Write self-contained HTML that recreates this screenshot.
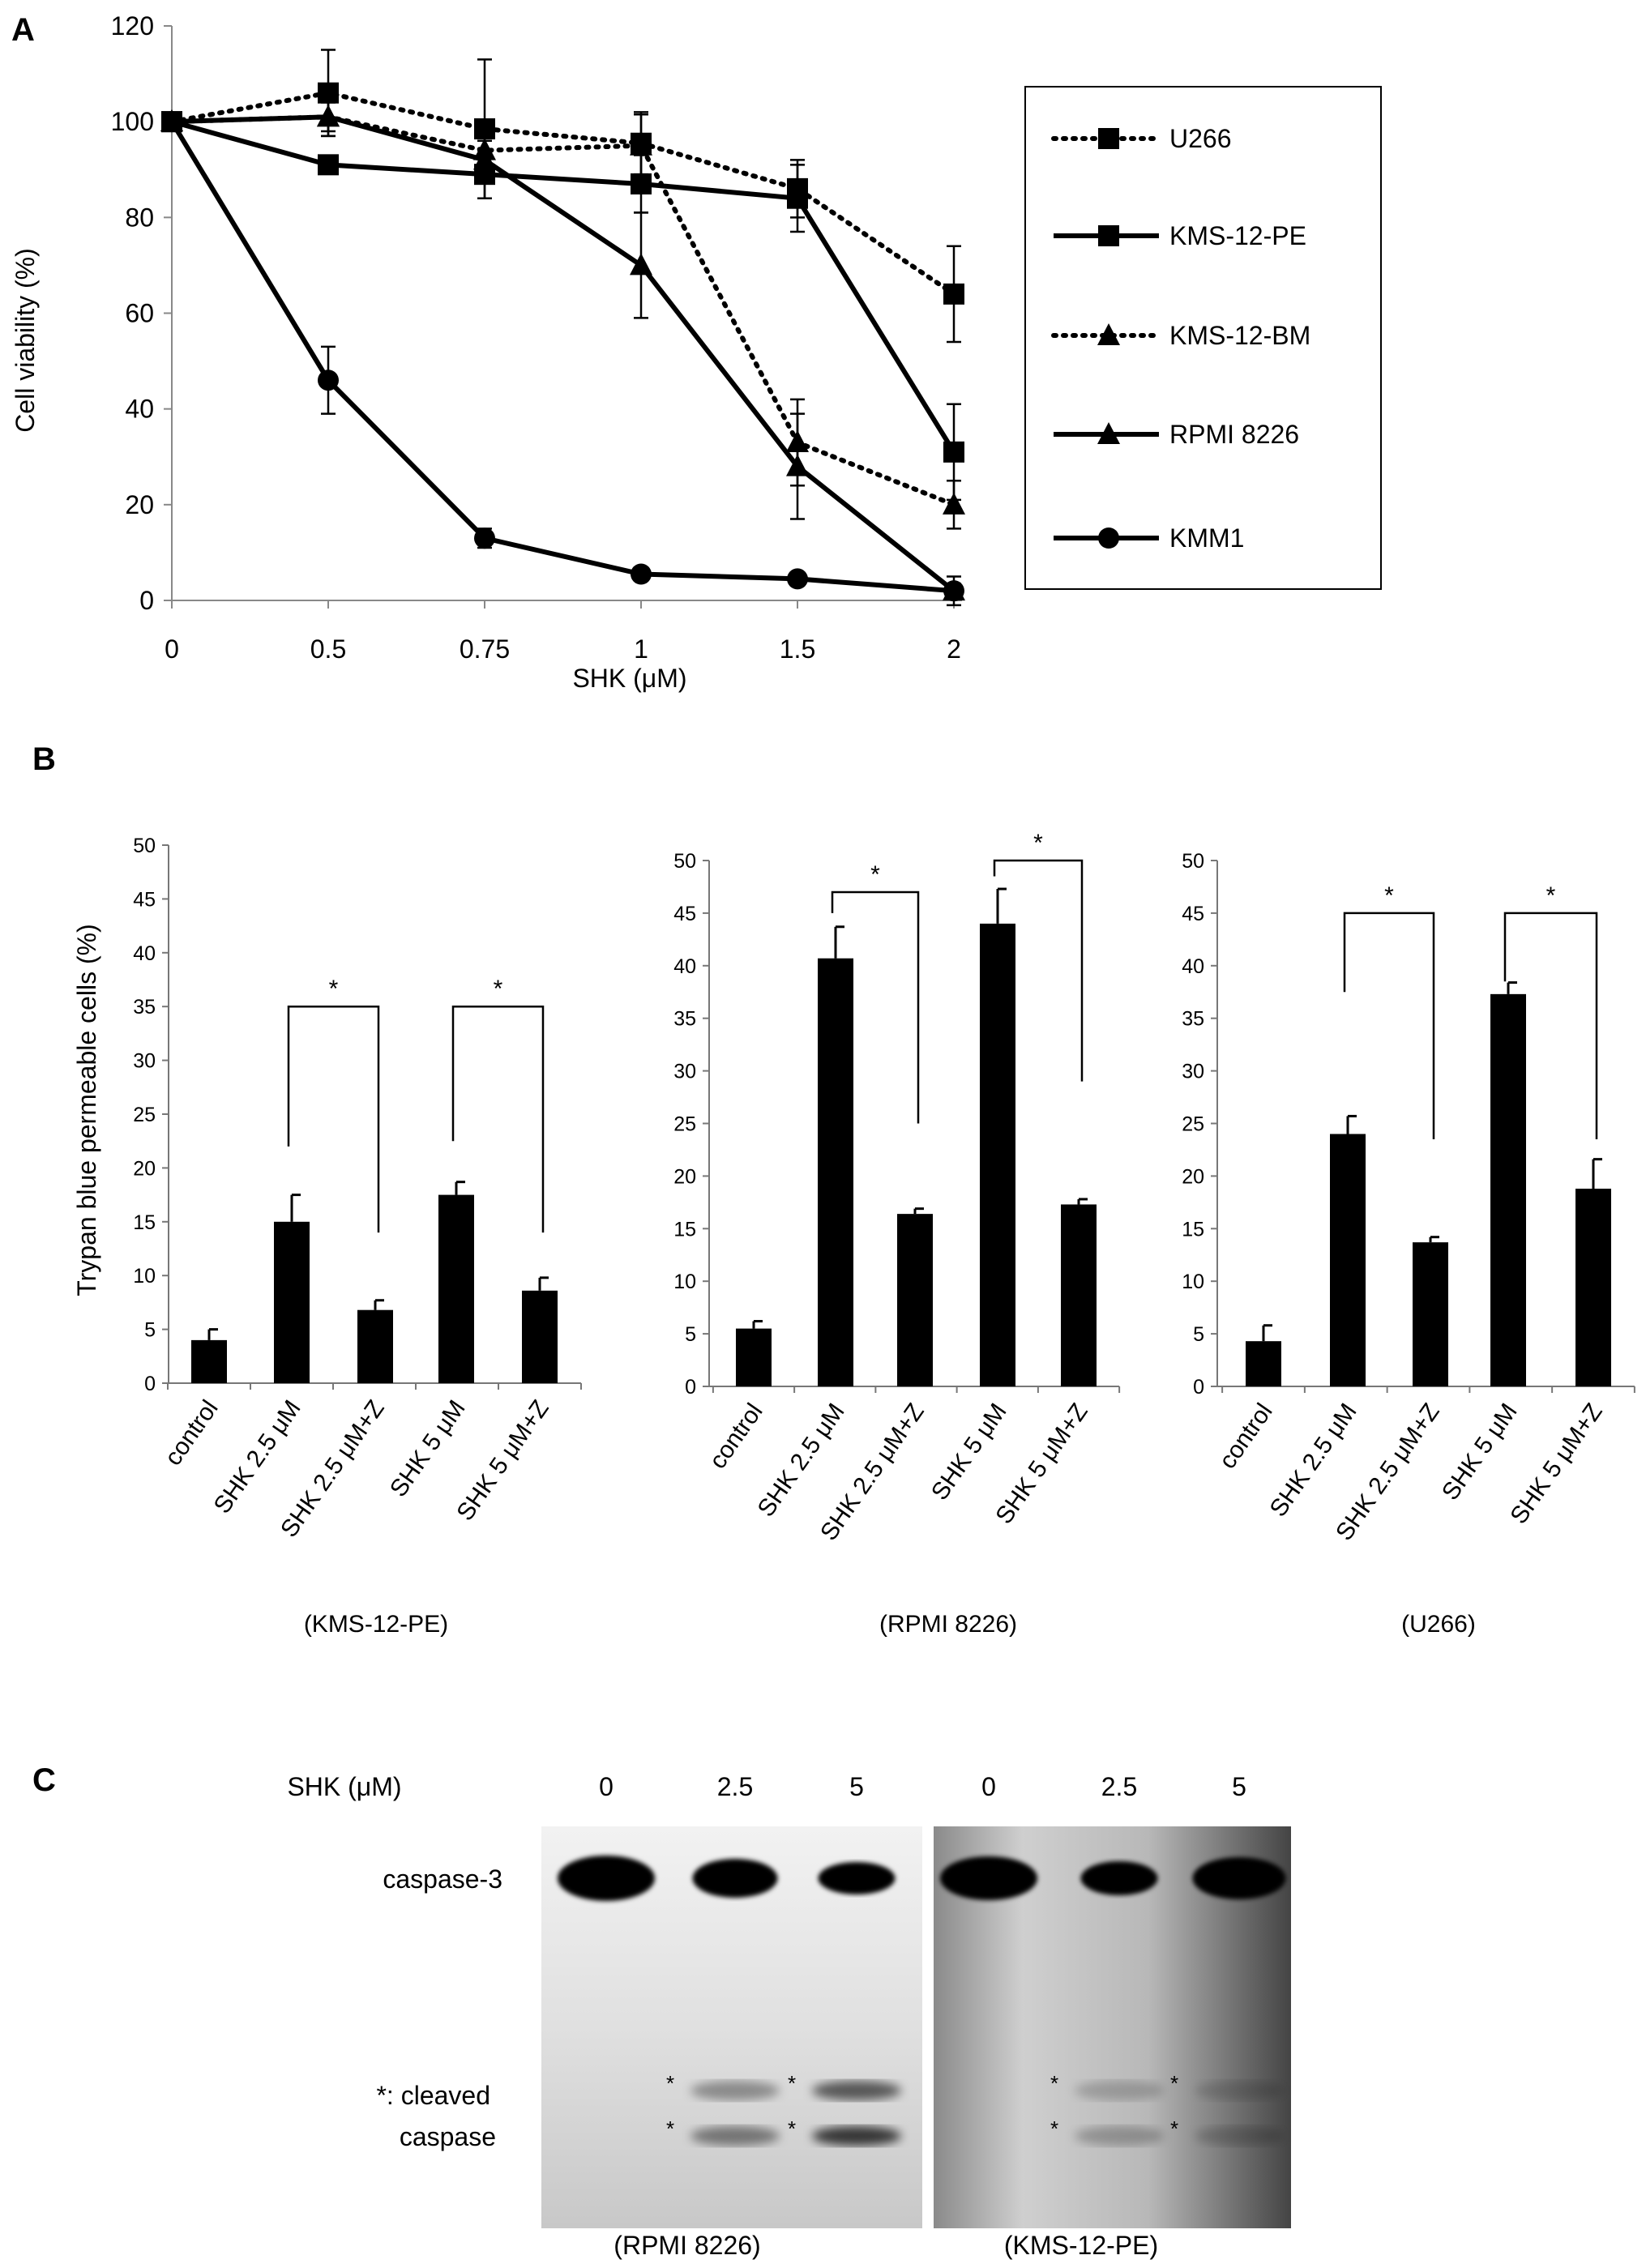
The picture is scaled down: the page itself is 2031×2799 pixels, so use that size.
<!DOCTYPE html>
<html><head><meta charset="utf-8"><style>
html,body{margin:0;padding:0;background:#fff}
svg{display:block;font-family:"Liberation Sans",Arial,sans-serif}
</style></head><body>
<svg id="fig" width="2031" height="2799" viewBox="0 0 2031 2799" xmlns="http://www.w3.org/2000/svg">
<defs>
<linearGradient id="g1" x1="0" y1="0" x2="0" y2="1"><stop offset="0" stop-color="#f2f2f2"/><stop offset="0.5" stop-color="#e0e0e0"/><stop offset="1" stop-color="#c8c8c8"/></linearGradient>
<linearGradient id="g2" x1="0" y1="0" x2="1" y2="0"><stop offset="0" stop-color="#8a8a8a"/><stop offset="0.25" stop-color="#cfcfcf"/><stop offset="0.6" stop-color="#b8b8b8"/><stop offset="1" stop-color="#444"/></linearGradient>
<filter id="blur"><feGaussianBlur stdDeviation="6"/></filter>
<filter id="blur2"><feGaussianBlur stdDeviation="3"/></filter>
</defs>
<text x="14" y="50" font-size="40" font-weight="bold">A</text>
<text x="40" y="950" font-size="40" font-weight="bold">B</text>
<text x="40" y="2210" font-size="40" font-weight="bold">C</text>
<g id="pa"></g><g id="pb"></g><g id="pc"></g>
</svg>
<script>
// ---- Panel A data ----
const doseLabels = ["0","0.5","0.75","1","1.5","2"];
const seriesNames = ["U266","KMS-12-PE","KMS-12-BM","RPMI 8226","KMM1"];
const u266 = [100,106,98.5,95.5,86,64];
const u266Err = [0,9,14.5,6.5,6,10];
const kms12pe = [100,91,89,87,84,31];
const kms12peErr = [0,1.5,5,6,7,10];
const kms12bm = [100,101,94,95,33,20];
const kms12bmErr = [0,4,3,6.5,9,5];
const rpmi = [100,101,92,70,28,2];
const rpmiErr = [0,3,4,11,11,3];
const kmm1 = [100,46,13,5.5,4.5,2];
const kmm1Err = [0,7,2,1,1,1.5];
const yTicksA = [0,20,40,60,80,100,120];

// ---- Panel B data ----
const barCats = ["control","SHK 2.5 μM","SHK 2.5 μM+Z","SHK 5 μM","SHK 5 μM+Z"];
const cellLines = ["(KMS-12-PE)","(RPMI 8226)","(U266)"];
const kmsVals = [4,15,6.8,17.5,8.6];
const kmsErr = [1,2.5,0.9,1.2,1.2];
const rpmiVals = [5.5,40.7,16.4,44,17.3];
const rpmiBarErr = [0.7,3,0.5,3.3,0.5];
const u266Vals = [4.3,24,13.7,37.3,18.8];
const u266BarErr = [1.5,1.7,0.5,1.1,2.8];
const yTicksB = [0,5,10,15,20,25,30,35,40,45,50];
// brackets: [leftIdx, rightIdx, topValue, leftDrop, rightDrop]
const kmsBr = [[1,2,35,22,14],[3,4,35,22.5,14]];
const rpmiBr = [[1,2,47,45,25],[3,4,50,48.5,29]];
const u266Br = [[1,2,45,37.5,23.5],[3,4,45,38.5,23.5]];

// ---- Panel C labels ----
const laneLabels = ["0","2.5","5","0","2.5","5"];

const NS="http://www.w3.org/2000/svg";
function el(tag,attrs,parent,txt){const e=document.createElementNS(NS,tag);for(const k in attrs)e.setAttribute(k,attrs[k]);if(txt!==undefined)e.textContent=txt;parent.appendChild(e);return e;}

// ===== Panel A =====
const pa=document.getElementById('pa');
const ax0=212, ay0=741, ay120=32, xstep=193;
const xA=i=>ax0+i*xstep;
const yA=v=>ay0-(v/120)*(ay0-ay120);
let a=el('line',{x1:ax0,y1:yA(120),x2:ax0,y2:ay0,stroke:'#888','stroke-width':2},pa);

a=el('line',{x1:ax0,y1:ay0,x2:xA(5)+10,y2:ay0,stroke:'#888','stroke-width':2},pa);

yTicksA.forEach(v=>{
  el('line',{x1:ax0-10,y1:yA(v),x2:ax0,y2:yA(v),stroke:'#888','stroke-width':2},pa);
  const t=el('text',{x:ax0-22,y:yA(v)+11,'font-size':32,'text-anchor':'end'},pa,v);
  
});
doseLabels.forEach((d,i)=>{
  el('line',{x1:xA(i),y1:ay0,x2:xA(i),y2:ay0+10,stroke:'#888','stroke-width':2},pa);
  const t=el('text',{x:xA(i),y:812,'font-size':32,'text-anchor':'middle'},pa,d);
  
});
let t=el('text',{x:777,y:848,'font-size':32,'text-anchor':'middle'},pa,'SHK (μM)');

t=el('text',{x:0,y:0,'font-size':32,'text-anchor':'middle',transform:'translate(42,420) rotate(-90)'},pa,'Cell viability (%)');


function marker(g,shape,x,y){
  if(shape==='sq') return el('rect',{x:x-13,y:y-13,width:26,height:26,fill:'#000'},g);
  if(shape==='tri') return el('polygon',{points:`${x},${y-15} ${x+14},${y+12} ${x-14},${y+12}`,fill:'#000'},g);
  return el('circle',{cx:x,cy:y,r:13,fill:'#000'},g);
}
const seriesA=[[u266,u266Err,'sq',true],[kms12pe,kms12peErr,'sq',false],[kms12bm,kms12bmErr,'tri',true],[rpmi,rpmiErr,'tri',false],[kmm1,kmm1Err,'ci',false]];
seriesA.forEach((s,si)=>{
  const g=el('g',{},pa);
  
  
  s[0].forEach((v,i)=>{ if(s[1][i]>0){
    const e=s[1][i];
    el('line',{x1:xA(i),y1:yA(v-e),x2:xA(i),y2:yA(v+e),stroke:'#000','stroke-width':2.5},g);
    el('line',{x1:xA(i)-9,y1:yA(v-e),x2:xA(i)+9,y2:yA(v-e),stroke:'#000','stroke-width':2.5},g);
    el('line',{x1:xA(i)-9,y1:yA(v+e),x2:xA(i)+9,y2:yA(v+e),stroke:'#000','stroke-width':2.5},g);
  }});
  const pts=s[0].map((v,i)=>xA(i)+','+yA(v)).join(' ');
  const pl=el('polyline',{points:pts,fill:'none',stroke:'#000','stroke-width':6,'stroke-dasharray':s[3]?'3 9':'none','stroke-linecap':s[3]?'round':'butt'},g);
  
  s[0].forEach((v,i)=>{const m=marker(g,s[2],xA(i),yA(v));});
});
// legend
const lg=el('g',{},pa);

el('rect',{x:1265,y:107,width:439,height:620,fill:'#fff',stroke:'#000','stroke-width':2},lg);
const legY=[171,291,414,536,664];
seriesA.forEach((s,i)=>{
  const ge=el('g',{},lg);
  
  el('line',{x1:1300,y1:legY[i],x2:1430,y2:legY[i],stroke:'#000','stroke-width':6,'stroke-dasharray':s[3]?'3 9':'none','stroke-linecap':s[3]?'round':'butt'},ge);
  marker(ge,s[2],1368,legY[i]);
  el('text',{x:1443,y:legY[i]+11,'font-size':32},ge,seriesNames[i]);
});

// ===== Panel B =====
const pb=document.getElementById('pb');
const charts=[
 {ax:208,y0:1707,y50:1043,bars:[258,360,463,563,666],vals:kmsVals,err:kmsErr,br:kmsBr,title:true,lx:464},
 {ax:875,y0:1711,y50:1062,bars:[930,1031,1129,1231,1331],vals:rpmiVals,err:rpmiBarErr,br:rpmiBr,title:false,lx:1170},
 {ax:1502,y0:1711,y50:1062,bars:[1559,1663,1765,1861,1966],vals:u266Vals,err:u266BarErr,br:u266Br,title:false,lx:1775}];
charts.forEach((c,ci)=>{
  const g=el('g',{},pb);
  
  const y=v=>c.y0-(v/50)*(c.y0-c.y50);
  const step=(c.bars[4]-c.bars[0])/4;
  const end=c.bars[0]-step/2+5*step;
  el('line',{x1:c.ax,y1:c.y50,x2:c.ax,y2:c.y0,stroke:'#777','stroke-width':2},g);
  el('line',{x1:c.ax,y1:c.y0,x2:end,y2:c.y0,stroke:'#777','stroke-width':2},g);
  yTicksB.forEach(v=>{
    el('line',{x1:c.ax-8,y1:y(v),x2:c.ax,y2:y(v),stroke:'#777','stroke-width':2},g);
    const tt=el('text',{x:c.ax-16,y:y(v)+9,'font-size':25,'text-anchor':'end'},g,v);
    
  });
  for(let k=0;k<=5;k++){const xx=c.bars[0]-step/2+k*step;el('line',{x1:xx,y1:c.y0,x2:xx,y2:c.y0+8,stroke:'#777','stroke-width':2},g);}
  c.vals.forEach((v,i)=>{
    const bx=c.bars[i];
    const e=c.err[i];
    el('line',{x1:bx,y1:y(v),x2:bx,y2:y(v+e),stroke:'#000','stroke-width':3},g);
    el('line',{x1:bx,y1:y(v+e),x2:bx+11,y2:y(v+e),stroke:'#000','stroke-width':3},g);
    const r=el('rect',{x:bx-22,y:y(v),width:44,height:c.y0-y(v),fill:'#000'},g);
    
    const lab=el('text',{x:0,y:0,'font-size':30,'text-anchor':'end',transform:`translate(${bx+12},${c.y0+30}) rotate(-55)`},g,barCats[i]);
    
  });
  c.br.forEach(b=>{
    const bg=el('g',{},g);
    
    const xl=c.bars[b[0]]-4,xr=c.bars[b[1]]+4;
    el('polyline',{points:`${xl},${y(b[3])} ${xl},${y(b[2])} ${xr},${y(b[2])} ${xr},${y(b[4])}`,fill:'none',stroke:'#000','stroke-width':2.5},bg);
    el('text',{x:(xl+xr)/2,y:y(b[2])-12,'font-size':30,'text-anchor':'middle'},bg,'*');
  });
  const lt=el('text',{x:c.lx,y:2014,'font-size':30,'text-anchor':'middle'},g,cellLines[ci]);
  
  if(c.title){const yt=el('text',{x:0,y:0,'font-size':32,'text-anchor':'middle',transform:'translate(118,1370) rotate(-90)'},g,'Trypan blue permeable cells (%)');
    }
});

// ===== Panel C =====
const pc=document.getElementById('pc');
const laneX=[748,907,1057,1220,1381,1529];
t=el('text',{x:425,y:2216,'font-size':32,'text-anchor':'middle'},pc,'SHK (μM)');

laneLabels.forEach((l,i)=>{const tt=el('text',{x:laneX[i],y:2216,'font-size':32,'text-anchor':'middle'},pc,l);
  });
let b1=el('rect',{x:668,y:2254,width:470,height:496,fill:'url(#g1)'},pc);

let b2=el('rect',{x:1152,y:2254,width:441,height:496,fill:'url(#g2)'},pc);

const bandW=[120,105,95,120,95,115], bandH=[56,48,40,54,42,52];
laneX.forEach((x,i)=>{
  const e=el('ellipse',{cx:x,cy:2318,rx:bandW[i]/2,ry:bandH[i]/2,fill:'#000',filter:'url(#blur2)'},pc);
  
});
const cleav=[[1,0.45],[2,0.75],[4,0.25],[5,0.2]];
cleav.forEach(c=>{[2580,2636].forEach((yy,k)=>{
  el('ellipse',{cx:laneX[c[0]],cy:yy,rx:55,ry:12,fill:'#000','fill-opacity':c[1]*(k?1:0.8),filter:'url(#blur)'},pc);
  el('text',{x:laneX[c[0]]-80,y:yy,'font-size':26,'text-anchor':'middle'},pc,'*');
});});
t=el('text',{x:620,y:2330,'font-size':32,'text-anchor':'end'},pc,'caspase-3');

t=el('text',{x:605,y:2597,'font-size':32,'text-anchor':'end'},pc,'*: cleaved');

t=el('text',{x:612,y:2648,'font-size':32,'text-anchor':'end'},pc,'caspase');

t=el('text',{x:848,y:2782,'font-size':32,'text-anchor':'middle'},pc,'(RPMI 8226)');

t=el('text',{x:1334,y:2782,'font-size':32,'text-anchor':'middle'},pc,'(KMS-12-PE)');

</script>
</body></html>
